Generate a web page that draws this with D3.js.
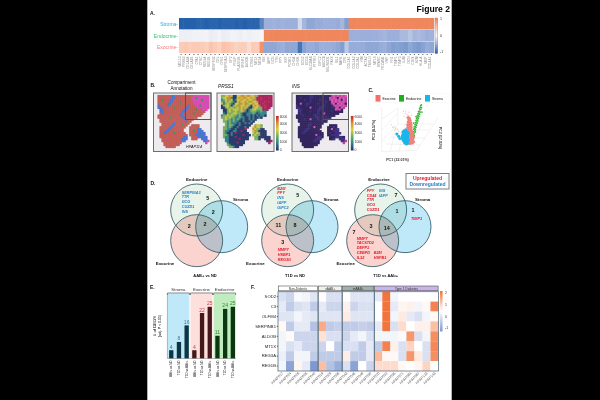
<!DOCTYPE html>
<html><head><meta charset="utf-8">
<script src="https://cdn.jsdelivr.net/npm/d3@7/dist/d3.min.js"></script>
<style>html,body{margin:0;padding:0;background:#fff}svg{display:block;filter:blur(.35px)}text{font-family:"Liberation Sans",Arial,sans-serif}</style>
</head><body><svg id="c" width="600" height="400"></svg>
<script>
// ---------- Panel A data ----------
const rowsA = ["Stroma","Endocrine","Exocrine"];
const genesA = ["MCL13","PRSS3","CELA3A","CELA3B","CPA1","CTRC","REG1A","REG1B","SERPINI2","CEL","CPB1","SERPINA3","GP2","PNLIP","PLA2G1B","SPINK1","ALDOB","CTRB1","MT1X","MT2A",
"INS","IAPP","GCG","TTR","PPY","SST","PCSK1","CHGA","CHGB","SCG2","SCG5","SLC30A8","PTPRN","GIPC2","ABCC8","NEUROD1","PAX6","ISL1","MAFB","CPE",
"COL1A1","COL1A2","COL3A1","VIM","ACTA2","TAGLN","MYL9","SPARC","PECAM1","VWF","FN1","TIMP1","TIMP3","LUM","DCN","CD74","B2M","HLA-A","MGP","COL4A1"];
const stromaA = [-.97,-.97,-.97,-.97,-.95,-.95,-.97,-.95,-.95,-.97,-.95,-.95,-.95,-.97,-.95,-.97,-.95,-.95,-.95,-.75,-.5,-.5,-.48,-.5,-.48,-.5,-.5,-.5,-.2,-.45,-.55,-.55,-.52,-.52,-.5,-.5,-.5,-.52,-.45,-.6,1,1,1,1,1,1,1,1,1,1,1,1,1,1,1,1,1,1,1,1];
const endoA = [-.05,-.05,-.04,-.03,-.03,-.03,-.02,-.06,-.05,-.02,-.06,-.05,-.02,-.03,-.05,-.02,-.04,-.03,-.02,0,1,1,1,1,1,1,1,1,1,1,1,1,1,1,1,1,1,1,1,1,-.5,-.5,-.5,-.5,-.5,-.5,-.5,-.48,-.45,-.5,-.5,-.5,-.42,-.42,-.35,-.45,-.42,-.45,-.5,-.48];
const exoA = [.42,.45,.4,.42,.42,.42,.36,.5,.42,.35,.52,.48,.42,.35,.4,.4,.25,.42,.4,.92,-.55,-.55,-.55,-.52,-.5,-.55,-.55,-.55,-.85,-.58,-.52,-.52,-.55,-.5,-.5,-.5,-.52,-.55,-.6,-.32,-.52,-.52,-.52,-.52,-.55,-.55,-.55,-.52,-.5,-.55,-.6,-.58,-.6,-.62,-.55,-.6,-.62,-.58,-.52,-.55];
const ticksA = [1,0,-1];
// ---------- Panel B data (spot class per cell, 29 x 30) ----------
const tissueAnno = [
".............................",
"..rrrrrrrbbrrrrrrrrrmmmmmmmm.",
"..rrrrrrrbbrrrrrrrrmmgmmmmmm.",
"..rrgrrrbbrrrrrrrrrmmmmmgmmm.",
"..rrrrrrbbrrrgrrrrrrmmmmmmmm.",
"..rrrrrbbrrrrrrrrrrrmmmmmmmm.",
"..brrrrbrrrrrrrrrbrrrmmgmmmm.",
"..bbrrrrrrgrrrrrbbrrrrmmmmmm.",
"...bbrrrrrrrrrrbbrrrrgrrmmm..",
"...bbrrrrrrrrrbbrrrrrrrrrr...",
"...rbrrrrrrrrrbrrrrrgrrrr....",
"..rrrrrrrrrrrbbrrrrrrrrr.....",
"..rrrrrrgrrrrrbbrrrrrr.......",
"...rrrrrrrrrrrrbrrrr.........",
"...rrrrrrrrrrrrrbrr..........",
"....rrrrrrbrrrrrrr...........",
"....rrrrrbbrrrgrr..rrrr......",
"...rrrrrbbrrrrrr..rrrrr......",
"...rrrrbbrrrrrr...rrrrbb.....",
"...rrrbbrrrrrrr...rrgrbbb....",
"...rrbbrrrgrrrrr..rrrrbbbb...",
"...rrrrrrrrrrrrrr.rrrbbbbb...",
"...rrrrrrrrrrrrbb..rrrbbbbb..",
"....rrrrrrrrrrbbb..rrr..bbb..",
"....rrrrrrrrrrbb.........bbm.",
".....rrrrrrrrr............m..",
".....rrrrrrrr................",
"......rrrrr..................",
".............................",
"............................."];
const tissuePRSS1 = [
".............................",
"..ggyyoyddyyooyooyyogmmmmmmm.",
"..gyyootddyoyooyyoyommrmmmrm.",
"..tgyogydtyyoyyoyyogmmrmmmmm.",
"..gtygygtdyoyyoygoyyommmrmrm.",
"..ytgygtdyygoyogyyoyymmrmmmm.",
"..dgyygdgygoyyoygdyoyommrmmm.",
"..ddgygyggyoygyoddgyyggmrmm..",
"...ddgygyyygyogdtgyygggmmm...",
"...ddgyggyggyotdtgggttgtt....",
"...tdgggyyggtddtttgtdtttt....",
"..tggygyggtgtddttdtdtdttd....",
"..ggygyggttgttddtdtddtd......",
"...gyggtgtgtdtddtdtd.........",
"...ggtgtgttddtdddtd..........",
"....gtgtttdtddtdtd...........",
"....gtggtddtddddd..gyyg......",
"...ggtgtddtdddtd..yoyyg......",
"...ggttddtddddm...oyggdd.....",
"...gttddttddmdd...yogdddd....",
"...gtddtdmdddddd..ygygddd....",
"...ggtdtdddddmddd.gyggddd....",
"...gttdddmdddddd...ggdddddd..",
"....ttdddddmdddd...ggd..ddd..",
"....ttdddddddd...........ddm.",
".....tddddmddd............m..",
".....gtdddddd................",
"......ggtdd..................",
".............................",
"............................."];
const tissueINS = [
".............................",
"..dddddddvvdddddddddmpmpmpmp.",
"..ddvddddvvddddddddpmpmdpmpm.",
"..ddddvddvddddvddddmpmpmpdpm.",
"..dddddddvdddddddvddpmpmpmpm.",
"..ddpddvvddddvddddddmpdpmpmd.",
"..vddddvddddddddvddddmpmpmpm.",
"..vvdddddpddddvvddddvdmpdpm..",
"...vvddddddddvvdddddddpmpd...",
"...vvddddvdddvddddddvddddd...",
"...dvddddddddvddpddddddd.....",
"..dddvdddddvvddddddddd.......",
"..ddddddddddvvdddvdd.........",
"...dddvddpdddvdddd...........",
"...ddddddddddddvdd...........",
"....dddddvdddddd.............",
"....ddddvvddddd....dddd......",
"...dddddvddpddd...dddvd......",
"...ddddvvddddd....ddpdvv.....",
"...dddvvddddddd...dddvvv.....",
"...ddvvddddddddd..dvddvvv....",
"...dddddddddpddd..ddvvvv.....",
"...ddddddddddvvd...dddvvvvd..",
"....ddddddddvvv....ddv..vvv..",
"....dddddddvvd...........vvm.",
".....ddddddddd............m...",
".....dddddddd................",
"......ddddd..................",
".............................",
"............................."];
const legendPosB = [116.5,124,133,141.5,150];
const legendLabelsB = ["6000","4000","3000","1000","0"];
// ---------- Panel C data ----------
const pcExocrine = [[46,23],[48,22],[50,21],[52,24],[54,22],[56,24],[47,28],[49,27],[51,29],[53,27],[55,30],[47,33],[49,34],[51,33],[53,35],[55,34],[46,38],[48,40],[50,38],[52,39],[54,40],[47,44],[49,43],[51,45],[53,44],[46,50],[48,49],[50,48],[52,50],[46,55],[48,54],[50,53],[52,55],[47,60],[49,58],[51,59],[48,64],[50,63],[47,68],[49,67],[48,31],[50,35],[52,42],[49,46],[51,52],[50,57],[49,61],[48,25],[51,25],[54,28],[46,44],[45,34]];
const pcExocrineSparse = [[19,55],[23,52],[26,49],[24,45],[29,47],[31,43],[34,40],[37,38],[21,50],[30,39],[39,79],[42,76],[45,73],[48,78],[52,72],[44,68],[47,72],[40,70],[43,80]];
const pcEndocrine = [[55,38],[56,42],[57,40],[58,44],[56,47],[58,48],[59,46],[57,51],[59,52],[60,50],[58,55],[60,56],[61,54],[59,59],[61,60],[62,58],[60,63],[62,64],[63,62],[61,67],[63,68],[64,66],[62,71],[64,72],[65,70],[63,75],[65,76],[66,74],[64,79],[66,80],[67,78],[66,84],[68,83],[67,87],[69,86],[69,91],[68,90],[57,36],[54,34],[59,42],[55,31],[57,33],[53,30],[70,78],[60,70],[56,58]];
const pcStroma = [[37,34],[37,30],[38,37],[39,33],[40,29],[40,25],[41,36],[41,31],[42,41],[42,27],[43,23],[43,35],[44,30],[44,43],[45,25],[45,38],[46,33],[46,22],[47,40],[47,27],[45,21],[44,27],[38,42],[40,44],[43,46],[39,27],[41,22],[44,20],[45,42],[42,32],[31,34],[28,38],[33,30],[44,36],[40,40],[42,37],[38,31],[46,29],[46,36],[41,27],[39,37],[43,39]];
const floorEdges = [
 [[381.7,151.7],[416.7,150.3]],[[416.7,150.3],[438,118]],[[381.7,151.7],[381.7,108]],
 [[390.5,151.3],[396,127]],[[399.2,151],[405,124]],[[408,150.7],[423,122]],
 [[386,144],[420,145]],[[390,137],[425,138]],[[394,130],[430,130]],[[398,124],[434,124]],
 [[381.7,141],[398,124]],[[381.7,130],[398,113]],[[381.7,119],[398,108]],[[398,108],[398,124]]];
// ---------- Panel D data ----------
const vennCenters = [[[170,150],[245,200],[170,242]],[[443,150],[516,200],[443,242]],[[722,150],[795,200],[698,242]]];
const vennCircleNames = ["Endocrine","Stroma","Exocrine"];
const vennTitles = ["AAB+ vs ND","T1D vs ND","T1D vs AAb+"];
const vennNumbers = [
 [["5",203,114],["2",220,157],["2",148,199],["2",195,193]],
 [["5",473,104],["11",415,194],["8",465,195],["3",428,247]],
 [["7",768,104],["1",771,152],["1",819,150],["3",693,199],["14",740,203],["7",642,215]]];
const vennUp = [
 ["B2M",412,86],["PPY",412,99],["MMP7",413,270],["HSBP1",413,284],["REG3G",413,298],
 ["PPY",680,93],["CD44",680,106],["TTR",680,120],["GCG",680,135],["CUZD1",680,149],["TIMP1",813,175],
 ["MMP7",650,235],["TACSTD2",650,249],["DEPP1",650,263],["CEBPD",650,279],["IL32",650,292],["B2M",701,279],["HSPB1",701,292]];
const vennDown = [
 ["SERPINA3",125,97],["TTR",125,110],["GCG",125,125],["CUZD1",125,140],["INS",125,154],
 ["INS",412,113],["IAPP",412,127],["GIPC2",412,142],["INS",717,93],["IAPP",717,106]];
// ---------- Panel E data ----------
const compartments = ["Stroma","Exocrine","Endocrine"];
const contrasts = ["AAb+ vs ND","T1D vs ND","T1D vs AAb+"];
const degStroma = [4,8,16];
const degExocrine = [4,22,25];
const degEndocrine = [11,24,25];
// ---------- Panel F data ----------
const genesF = ["SOD2","C3","OLFM4","SERPINB1","ALDOB","MT1X","REG3A","REG1B"];
const donorsF = ["HPAP017","HPAP024","HPAP026","HPAP035","HPAP040","HPAP019","HPAP029","HPAP038","HPAP043","HPAP045","HPAP049","HPAP050","HPAP020","HPAP032","HPAP055","HPAP071","HPAP084","HPAP087","HPAP123","HPAP143"];
const groupsF = [["Non-Diabetic",5],["sAAB+",3],["mAAB+",4],["Type 1 Diabetes",8]];
const sod2 = [-.3,-.4,-.05,-.1,-.25,0.02,-.3,-.3,0,-.25,-.25,-.25,-.2,2,-.1,0,0,0,0,0];
const c3 = [-.2,-.5,-.3,-.25,-.5,-.2,-.4,-.4,.2,-.4,-.3,-.3,0,2,-.2,.15,.2,-.1,.1,1.8];
const olfm4 = [-.25,-.25,-.1,-.2,-.25,-.25,-.25,-.25,.3,-.25,-.25,-.25,0,2,-.1,.3,-.2,-.3,-.1,.1];
const serpinb1 = [.1,-.5,-.2,-.2,-.6,1.2,-.5,-.45,-.5,-.5,-.45,-.5,-.2,2,-.3,.5,0,.2,.2,.9];
const aldob = [-.1,.05,-.4,-.4,-.4,.4,-.3,-.3,-.4,-.2,-.1,-.3,-.1,-.1,-.1,-.05,1.5,-.3,-.1,1.6];
const mt1x = [-.1,-.3,-.2,-.4,-.4,-.4,0,-.5,-.3,-.3,-.5,-.2,-.5,1.8,.2,-.3,.6,0,-.3,1.7];
const reg3a = [-.15,-.5,-.1,-.1,-.5,-.5,-.5,-.5,.25,-.5,-.5,-.2,1,.1,.1,-.3,1.5,.3,-.3,1.6];
const reg1b = [-.1,-.9,.15,-.2,-1,.9,-.6,-.8,-.3,-.9,0,-.4,.5,.5,.5,.1,0,.15,.6,0];
const ticksF = [2,1,0,-1];

// ========== drawing ==========
const svg = d3.select("#c");
svg.append("rect").attr("width",600).attr("height",400).attr("fill","#fff");
const label=(x,y,t,o={})=>svg.append("text").attr("x",x).attr("y",y).text(t)
  .attr("font-size",o.s||5).attr("font-weight",o.w||"normal").attr("font-style",o.i||"normal")
  .attr("fill",o.f||"#111").attr("text-anchor",o.a||"start");
label(416.5,12,"Figure 2",{s:8.6,w:"bold",f:"#000"});
[["A.",150,15],["B.",150.5,87],["C.",368.5,91.5],["D.",150.5,184.5],["E.",150,289],["F.",251,289]]
  .forEach(d=>label(d[1],d[2],d[0],{s:5,w:"bold"}));

// ---- A ----
const colorA=d3.scaleLinear().domain([-1,-.5,0,.5,1]).range(["#1d5ca8","#9cafda","#f6f6f8","#fcc3ab","#f0875c"]);
const xA=d3.scaleBand().domain(genesA).range([179,433.5]);
const yA=d3.scaleBand().domain(rowsA).range([18,53.5]);
const rowValsA={Stroma:stromaA,Endocrine:endoA,Exocrine:exoA};
const rowColA={Stroma:"#2da7df",Endocrine:"#37bf72",Exocrine:"#ef8080"};
rowsA.forEach(r=>{
  svg.append("g").selectAll("rect").data(rowValsA[r]).join("rect")
   .attr("x",(d,i)=>xA(genesA[i])).attr("y",yA(r)).attr("width",xA.bandwidth()+.6)
   .attr("height",yA.bandwidth()-.4).attr("fill",d=>colorA(d));
  label(178,yA(r)+yA.bandwidth()/2+1.8,r+"-",{s:5,a:"end",f:rowColA[r]});
});
const axA=svg.append("g").attr("transform","translate(0,54)").call(d3.axisBottom(xA).tickSize(1).tickPadding(1.5));
axA.select(".domain").remove();
axA.selectAll("line").attr("stroke","#555");
axA.selectAll("text").attr("font-size",3.2).attr("fill","#888").attr("font-family","Liberation Sans")
  .attr("transform","rotate(-90)").attr("text-anchor","end").attr("dx","-2.5").attr("dy","-4.5").attr("x",0).attr("y",4);
const gid=(id,stops)=>{const g=svg.append("defs").append("linearGradient").attr("id",id).attr("x1",0).attr("x2",0).attr("y1",1).attr("y2",0);
  stops.forEach((c,i)=>g.append("stop").attr("offset",i/(stops.length-1)).attr("stop-color",c));};
gid("gA",["#1d5ca8","#9cafda","#f6f6f8","#fcc3ab","#f0875c"]);
const yLegA=d3.scaleLinear().domain([-1,1]).range([52,19]);
svg.append("rect").attr("x",435).attr("y",18).attr("width",2.8).attr("height",35.5).attr("fill","url(#gA)").attr("stroke","#667").attr("stroke-width",.3);
ticksA.forEach(t=>label(440,yLegA(t)+1.4,t,{s:3.6,f:"#333"}));

// ---- B ----
const colAnno={r:"#c25c57",b:"#4a74d0",g:"#2f9c52",m:"#d64bb4"};
const colPRSS={d:"#2d3b6c",t:"#33858a",g:"#7fae5e",y:"#cfc445",o:"#c9903f",m:"#a8245f",r:"#c23055"};
const colINS={d:"#33265f",v:"#3f3180",p:"#e257bb",m:"#b8459a"};
const panelsB=[{x:153.5,w:57.5,map:tissueAnno,c:colAnno,inset:true},{x:217,w:57,map:tissuePRSS1,c:colPRSS},{x:292,w:56.5,map:tissueINS,c:colINS,inset:true}];
const yB=d3.scaleBand().domain(d3.range(30)).range([93,151.5]);
panelsB.forEach(p=>{
  const xB=d3.scaleBand().domain(d3.range(29)).range([p.x,p.x+p.w]);
  svg.append("rect").attr("x",p.x).attr("y",93).attr("width",p.w).attr("height",58.5).attr("fill","#eeebef");
  const g=svg.append("g");
  p.map.forEach((row,ri)=>{
    row.slice(0,29).split("").forEach((ch,ci)=>{
      if(ch===".")return;
      g.append("rect").attr("x",xB(ci)).attr("y",yB(ri)).attr("width",xB.bandwidth()+.5).attr("height",yB.bandwidth()+.5).attr("fill",p.c[ch]||"#888");
    });
  });
  svg.append("rect").attr("x",p.x).attr("y",93).attr("width",p.w).attr("height",58.5).attr("fill","none").attr("stroke","#6e6e6e").attr("stroke-width",1);
  if(p.inset) svg.append("rect").attr("x",p.x+p.w-25.5).attr("y",93).attr("width",25.5).attr("height",26.5).attr("fill","none").attr("stroke","#555").attr("stroke-width",1);
});
label(181.5,83.5,"Compartment",{s:4.6,a:"middle"});
label(181.5,90,"Annotation",{s:4.6,a:"middle"});
label(218,88,"PRSS1",{s:4.8,i:"italic"});
label(292,88,"INS",{s:4.8,i:"italic"});
label(194,147.5,"HPAP114",{s:3.8,i:"italic",a:"middle"});
gid("gB",["#2d2a6e","#2f7f8f","#5fb05f","#d8d040","#e08a30","#c82020"]);
[276,350.8].forEach(x=>{
  svg.append("rect").attr("x",x).attr("y",116).attr("width",2.7).attr("height",34.5).attr("fill","url(#gB)");
  legendLabelsB.forEach((t,i)=>label(x+3.7,legendPosB[i]+1.2,t,{s:3.4,f:"#333"}));
});

// ---- C ----
const xC=d3.scaleLinear().domain([0,100]).range([380,440]);
const yC=d3.scaleLinear().domain([0,100]).range([155,100]);
svg.append("rect").attr("x",373).attr("y",94).attr("width",77).attr("height",8.8).attr("fill","#fff").attr("stroke","#eee").attr("stroke-width",.4);
const legCol={Exocrine:"#ef736c",Endocrine:"#1fae1f",Stroma:"#19b6ea"};
[[375.5,"Exocrine"],[399,"Endocrine"],[425,"Stroma"]].forEach(d=>{
  svg.append("rect").attr("x",d[0]).attr("y",95).attr("width",5).attr("height",6.6).attr("fill",legCol[d[1]]);
  label(d[0]+7,99.7,d[1],{s:3.4});
});
const line=d3.line();
svg.append("g").attr("stroke","#dedede").attr("stroke-width",.4).attr("fill","none")
  .selectAll("path").data(floorEdges).join("path").attr("d",d=>line(d));
const dots=(a,c,r)=>svg.append("g").selectAll("circle").data(a).join("circle")
  .attr("cx",d=>xC(d[0])).attr("cy",d=>yC(d[1])).attr("r",r).attr("fill",c);
dots(pcExocrineSparse,"#f7b5ae",.6);
dots(pcEndocrine,"#2fb52f",.85);
dots(pcExocrine,"#f0807a",1.5);
dots(pcStroma,"#19b6ea",1.5);
svg.append("text").attr("transform","translate(375,130) rotate(-90)").attr("text-anchor","middle").attr("font-size",3.6).attr("font-weight","bold").attr("fill","#333").text("PC3 (8.57%)");
svg.append("text").attr("transform","translate(438.5,138) rotate(90)").attr("text-anchor","middle").attr("font-size",3.6).attr("font-weight","bold").attr("fill","#333").text("PC2 (17.92%)");
label(397.5,161,"PC1 (22.01%)",{s:3.6,w:"bold",a:"middle",f:"#333"});

// ---- D ----
const vx=d3.scaleLinear().domain([0,960]).range([140,460]);
const vy=d3.scaleLinear().domain([0,360]).range([160,280]);
const vennCol={Endocrine:"#e8f3ea",Stroma:"#bfe8f8",Exocrine:"#fbd4cf"};
const vr=26;
vennCenters.forEach((cs,vi)=>{
  const g=svg.append("g").style("isolation","isolate");
  cs.forEach((c,i)=>g.append("circle").attr("cx",vx(c[0])).attr("cy",vy(c[1])).attr("r",vr).attr("fill",vennCol[vennCircleNames[i]]).style("mix-blend-mode","multiply"));
  cs.forEach(c=>svg.append("circle").attr("cx",vx(c[0])).attr("cy",vy(c[1])).attr("r",vr).attr("fill","none").attr("stroke","#24505c").attr("stroke-width",.8));
  vennNumbers[vi].forEach(n=>label(vx(n[1]),vy(n[2])+2,n[0],{s:5.4,w:"bold",a:"middle",f:"#111"}));
});
vennUp.forEach(d=>label(vx(d[1]),vy(d[2])+1.3,d[0],{s:3.8,w:"bold",i:"italic",f:"#e3172b"}));
vennDown.forEach(d=>label(vx(d[1]),vy(d[2])+1.3,d[0],{s:3.8,w:"bold",i:"italic",f:"#2a7fc4"}));
[[170,443,717],[302,573,848],[75,346,617]].forEach((xs,i)=>{
  const ys=[57,118,310][i];
  xs.forEach(x=>label(vx(x),vy(ys)+1.5,vennCircleNames[i],{s:4.4,w:"bold",a:"middle"}));
});
[195,465,737].forEach((x,i)=>label(vx(x),vy(347)+1.5,vennTitles[i],{s:4,w:"bold",a:"middle"}));
svg.append("rect").attr("x",406).attr("y",173.5).attr("width",43).attr("height",15.5).attr("fill","#fff").attr("stroke","#7b7f85").attr("stroke-width",1);
label(427.5,180,"Upregulated",{s:5,a:"middle",f:"#e3172b",w:"bold"});
label(427.5,186,"Downregulated",{s:5,a:"middle",f:"#2a7fc4",w:"bold"});

// ---- E ----
const barsE=[];
compartments.forEach((c,i)=>{const vals=[degStroma,degExocrine,degEndocrine][i];
  contrasts.forEach((k,j)=>barsE.push({id:c+k,c,k,v:vals[j]}));});
const xE=d3.scaleBand().domain(barsE.map(d=>d.id)).range([167.4,236.7]).paddingInner(.44).paddingOuter(.22);
const yE=d3.scaleLinear().domain([0,25]).range([358.5,306.8]);
const bgE={Stroma:"#bfe9f9",Exocrine:"#fde0dc",Endocrine:"#c1ecbf"};
const barE={Stroma:"#0d3644",Exocrine:"#45191c",Endocrine:"#0b3710"};
const txtE={Stroma:"#2c7fa5",Exocrine:"#c8434a",Endocrine:"#2c8a30"};
compartments.forEach((c,i)=>{
  const x0=167.4+i*23.1, w=22;
  svg.append("rect").attr("x",x0).attr("y",293.5).attr("width",w).attr("height",65).attr("fill",bgE[c]);
  svg.append("path").attr("d",`M${x0},295V293H${x0+w}V295`).attr("fill","none").attr("stroke","#555").attr("stroke-width",.7);
  label(x0+w/2,291.2,c,{s:4.4,a:"middle",f:"#333"});
});
svg.append("g").selectAll("rect").data(barsE).join("rect").attr("x",d=>xE(d.id)).attr("y",d=>yE(d.v))
  .attr("width",xE.bandwidth()).attr("height",d=>yE(0)-yE(d.v)).attr("fill",d=>barE[d.c]);
barsE.forEach(d=>{
  label(xE(d.id)+xE.bandwidth()/2,yE(d.v)-1.5,d.v,{s:5,a:"middle",f:txtE[d.c]});
  svg.append("text").attr("transform",`translate(${xE(d.id)+xE.bandwidth()/2+1.2},360.5) rotate(-90)`).attr("text-anchor","end").attr("font-size",3).attr("fill","#222").text(d.k);
});
svg.append("path").attr("d","M167.4,293.5V358.5H236").attr("fill","none").attr("stroke","#777").attr("stroke-width",.5);
svg.append("text").attr("transform","translate(156,326) rotate(-90)").attr("text-anchor","middle").attr("font-size",4.2).text("# of DEGS");
svg.append("text").attr("transform","translate(161,326) rotate(-90)").attr("text-anchor","middle").attr("font-size",3.6).text("(adj. P < 0.05)");

// ---- F ----
const colorF=d3.scaleLinear().domain([-1,-.5,0,1,2]).range(["#7f99d0","#c0cbe8","#ffffff","#fbb89a","#f1743c"]);
const xF=d3.scaleBand().domain(donorsF).range([278,438.5]);
const yF=d3.scaleBand().domain(genesF).range([291.7,371]);
const valsF=[sod2,c3,olfm4,serpinb1,aldob,mt1x,reg3a,reg1b];
genesF.forEach((g,r)=>{
  svg.append("g").selectAll("rect").data(valsF[r]).join("rect")
   .attr("x",(d,i)=>xF(donorsF[i])).attr("y",yF(g)).attr("width",xF.bandwidth()+.1).attr("height",yF.bandwidth()+.1).attr("fill",d=>colorF(d));
});
const axF=svg.append("g").attr("transform","translate(278,0)").call(d3.axisLeft(yF).tickSize(1.2).tickPadding(.8));
axF.select(".domain").remove();
axF.selectAll("text").attr("font-size",4.2).attr("fill","#222").attr("font-family","Liberation Sans");
axF.selectAll("line").attr("stroke","#555");
let idx=0;
const hdr={"Non-Diabetic":"#ffffff","sAAB+":"#f0f0ee","mAAB+":"#9fb0ac","Type 1 Diabetes":"#c9b6e8"};
groupsF.forEach(([n,k])=>{
  const a=xF.step()*idx+278, w=xF.step()*k;
  svg.append("rect").attr("x",a+.4).attr("y",286).attr("width",w-.8).attr("height",4.8).attr("fill",hdr[n]).attr("stroke","#333").attr("stroke-width",.5);
  label(a+w/2,289.9,n,{s:3.2,a:"middle",f:"#333"});
  svg.append("rect").attr("x",a).attr("y",291.7).attr("width",w).attr("height",79.3).attr("fill","none").attr("stroke","#5c7280").attr("stroke-width",.8);
  idx+=k;
});
donorsF.forEach(d=>{
  svg.append("text").attr("transform",`translate(${xF(d)+xF.bandwidth()/2+1.5},373.5) rotate(-45)`).attr("text-anchor","end").attr("font-size",3.6).attr("fill","#555").text(d);
});
gid("gF",["#7f99d0","#c0cbe8","#ffffff","#fbb89a","#f1743c"]);
const yLegF=d3.scaleLinear().domain([-1,2]).range([328,293]);
svg.append("rect").attr("x",440).attr("y",291).attr("width",2.6).attr("height",40.5).attr("fill","url(#gF)");
ticksF.forEach(t=>label(445,yLegF(t)+1.4,t,{s:3.5,f:"#333"}));

// black side bands of the photographed page
svg.append("rect").attr("x",0).attr("y",0).attr("width",147.3).attr("height",400).attr("fill","#000");
svg.append("rect").attr("x",451.7).attr("y",0).attr("width",148.3).attr("height",400).attr("fill","#000");
</script></body></html>
